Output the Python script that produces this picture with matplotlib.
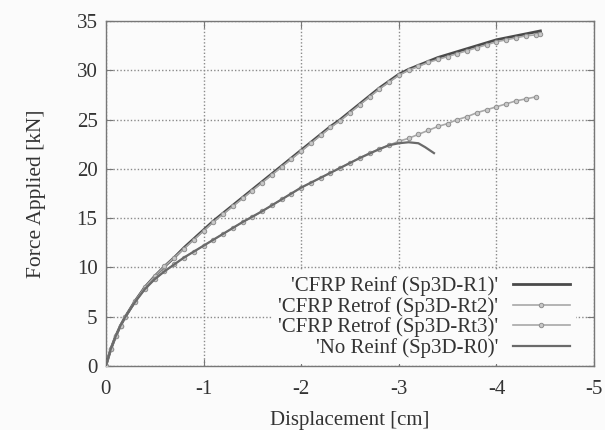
import numpy as np
import matplotlib.pyplot as plt

plt.rcParams['font.family'] = ['Liberation Serif', 'DejaVu Serif']
plt.rcParams['axes.unicode_minus'] = False

colour_text = "#333333"
colour_frame = "#777777"
colour_r1 = "#4a4a4a"
colour_rt = "#a8a8a8"
colour_r0 = "#6a6a6a"

# displacement [cm] and force [kN]
disp_upper = [0, -0.05, -0.1, -0.15, -0.2, -0.3, -0.4, -0.5, -0.6, -0.7, -0.8, -0.9, -1.0,
              -1.1, -1.2, -1.3, -1.4, -1.5, -1.6, -1.7, -1.8, -1.9, -2.0,
              -2.1, -2.2, -2.3, -2.4, -2.5, -2.6, -2.7, -2.8, -2.9, -3.0,
              -3.1, -3.2, -3.3, -3.4, -3.5, -3.6, -3.7, -3.8, -3.9, -4.0,
              -4.1, -4.2, -4.3, -4.4, -4.45]
force_r1 = [0, 1.7, 3.0, 4.1, 5.0, 6.6, 8.0, 9.1, 10.1, 11.0, 12.0, 12.9, 13.8,
            14.7, 15.5, 16.3, 17.1, 17.9, 18.7, 19.5, 20.3, 21.1, 21.9,
            22.7, 23.5, 24.3, 25.0, 25.8, 26.6, 27.4, 28.2, 28.9, 29.6,
            30.1, 30.5, 30.9, 31.3, 31.6, 31.9, 32.2, 32.5, 32.8, 33.1,
            33.3, 33.5, 33.7, 33.9, 34.0]
force_rt2 = [0, 1.7, 3.0, 4.1, 5.0, 6.6, 8.0, 9.1, 10.1, 11.0, 11.9, 12.8, 13.7,
             14.6, 15.4, 16.2, 17.0, 17.8, 18.6, 19.4, 20.2, 21.0, 21.8,
             22.6, 23.4, 24.2, 24.9, 25.7, 26.5, 27.3, 28.1, 28.8, 29.5,
             30.0, 30.4, 30.8, 31.1, 31.4, 31.7, 32.0, 32.3, 32.6, 32.9,
             33.1, 33.3, 33.5, 33.6, 33.7]

disp_rt3 = [0, -0.05, -0.1, -0.15, -0.2, -0.3, -0.4, -0.5, -0.6, -0.7, -0.8, -0.9, -1.0,
            -1.1, -1.2, -1.3, -1.4, -1.5, -1.6, -1.7, -1.8, -1.9, -2.0,
            -2.1, -2.2, -2.3, -2.4, -2.5, -2.6, -2.7, -2.8, -2.9, -3.0,
            -3.1, -3.2, -3.3, -3.4, -3.5, -3.6, -3.7, -3.8, -3.9, -4.0,
            -4.1, -4.2, -4.3, -4.4]
force_rt3 = [0, 1.7, 3.0, 4.1, 5.0, 6.5, 7.8, 8.8, 9.6, 10.3, 11.0, 11.6, 12.2,
             12.8, 13.4, 14.0, 14.6, 15.1, 15.7, 16.3, 16.9, 17.5, 18.1,
             18.6, 19.1, 19.6, 20.1, 20.6, 21.1, 21.6, 22.0, 22.4, 22.8,
             23.1, 23.5, 23.9, 24.3, 24.6, 25.0, 25.3, 25.7, 26.0, 26.3,
             26.6, 26.9, 27.1, 27.3]

disp_r0 = [0, -0.05, -0.1, -0.15, -0.2, -0.3, -0.4, -0.5, -0.6, -0.7, -0.8, -0.9, -1.0,
           -1.2, -1.4, -1.6, -1.8, -2.0, -2.2, -2.4, -2.6, -2.8, -2.9,
           -3.0, -3.1, -3.2, -3.27, -3.36]
force_r0 = [0, 1.7, 3.0, 4.1, 5.0, 6.5, 7.8, 8.8, 9.6, 10.3, 11.0, 11.6, 12.2,
            13.4, 14.6, 15.7, 16.9, 18.1, 19.1, 20.1, 21.1, 22.0, 22.4,
            22.6, 22.7, 22.6, 22.2, 21.6]

labels = ["'CFRP Reinf (Sp3D-R1)'", "'CFRP Retrof (Sp3D-Rt2)'",
          "'CFRP Retrof (Sp3D-Rt3)'", "'No Reinf (Sp3D-R0)'"]

fig = plt.figure(figsize=(6.05, 4.3), dpi=100, facecolor="#fbfbfb")
ax = fig.add_axes([0.175, 0.149, 0.807, 0.802])
ax.set_facecolor("#fbfbfb")

ax.plot(disp_upper, force_r1, c=colour_r1, lw=2.0, label=labels[0], zorder=3)
ax.plot(disp_upper, force_rt2, c=colour_rt, lw=1.2, marker='o', ms=3.2,
        mfc="#c8c8c8", mec="#909090", mew=0.7, label=labels[1], zorder=4)
ax.plot(disp_rt3, force_rt3, c=colour_rt, lw=1.2, marker='o', ms=3.2,
        mfc="#c8c8c8", mec="#909090", mew=0.7, label=labels[2], zorder=4)
ax.plot(disp_r0, force_r0, c=colour_r0, lw=1.6, label=labels[3], zorder=5)

ax.set_xlim(0, -5)
ax.set_ylim(0, 35)
ax.set_xticks([0, -1, -2, -3, -4, -5])
ax.set_yticks(np.arange(0, 36, 5))
ax.grid(True, ls=(0, (1, 1.5)), lw=1.0, color="#8a8a8a")

for s in ax.spines.values():
	s.set_color(colour_frame)
	s.set_linewidth(1.0)
ax.tick_params(direction='in', top=True, right=True, length=5, width=0.8,
               colors=colour_frame, labelcolor=colour_text, labelsize=15)
ax.tick_params(axis='x', pad=10)
ax.tick_params(axis='y', pad=6)

ax.set_xlabel("Displacement [cm]", fontsize=15, color=colour_text, labelpad=9)
ax.set_ylabel("Force Applied [kN]", fontsize=15.5, color=colour_text, labelpad=22)

leg = ax.legend(loc='lower right', bbox_to_anchor=(0.963, 0.005), fontsize=15,
                markerfirst=False, frameon=True, facecolor="#fbfbfb",
                edgecolor="none", framealpha=1, fancybox=False,
                handlelength=2.75, handletextpad=0.7, labelspacing=0.03,
                borderpad=0.3, borderaxespad=0.0)
for t in leg.get_texts():
	t.set_color(colour_text)
	t.set_ha('right')
leg.set_zorder(10)

plt.savefig("out.png", dpi=100, facecolor=fig.get_facecolor())
